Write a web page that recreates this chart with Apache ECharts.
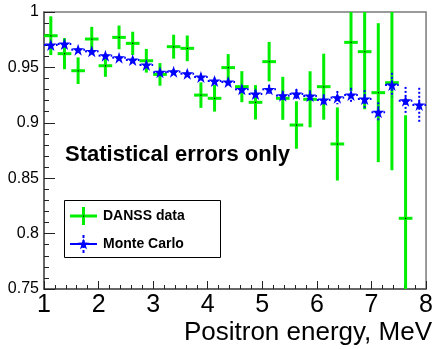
<!DOCTYPE html>
<html>
<head>
<meta charset="utf-8">
<script src="https://cdn.jsdelivr.net/npm/echarts@6/dist/echarts.min.js"></script>
<style>
html,body{margin:0;padding:0;background:#fff;}
#c{width:436px;height:349px;}
</style>
</head>
<body>
<div id="c"></div>
<script>
// ---- data ----
const energies = [1.125,1.375,1.625,1.875,2.125,2.375,2.625,2.875,3.125,3.375,3.625,3.875,4.125,4.375,4.625,4.875,5.125,5.375,5.625,5.875,6.125,6.375,6.625,6.875,7.125,7.375,7.625,7.875];
const binWidth = 0.25;
const dataValues = [0.9786,0.9624,0.947,0.9756,0.9515,0.9771,0.9717,0.956,0.9437,0.9687,0.9672,0.925,0.9221,0.9498,0.9326,0.9185,0.9552,0.9221,0.898,0.9212,0.9326,0.8809,0.9726,0.9642,0.9272,0.9362,0.8138,null];
const dataErrors = [0.0175,0.014,0.012,0.011,0.010,0.0107,0.0105,0.0107,0.0102,0.0108,0.0116,0.0115,0.012,0.0122,0.014,0.0155,0.0178,0.0194,0.0214,0.0253,0.0298,0.033,0.044,0.052,0.0627,0.079,0.093,null];
const mcValues = [0.9702,0.9711,0.966,0.9645,0.9606,0.9588,0.9567,0.9522,0.9456,0.9461,0.9443,0.9413,0.9377,0.9368,0.9302,0.926,0.9302,0.9245,0.926,0.9242,0.9206,0.9227,0.9251,0.9215,0.9095,0.9341,0.9199,0.9161];
const mcErrors = [0.002,0.002,0.002,0.002,0.002,0.002,0.0025,0.0025,0.0025,0.0025,0.003,0.003,0.003,0.003,0.0035,0.0035,0.004,0.004,0.0045,0.005,0.005,0.006,0.0065,0.008,0.009,0.011,0.0125,0.0155];
const xTicks = ['1','2','3','4','5','6','7','8'];
const yTicks = ['0.75','0.8','0.85','0.9','0.95','1'];
const xTitle = 'Positron energy, MeV';
const noteText = 'Statistical errors only';
const legendNames = ['DANSS data','Monte Carlo'];

const GREEN = '#00ee00';
const BLUE = '#0000ff';
const FONT = '"Liberation Sans", Arial, Helvetica, sans-serif';
const STAR = 'path://M50,0 L61.2,34.5 L97.6,34.5 L68.2,55.9 L79.4,90.5 L50,69.1 L20.6,90.5 L31.8,55.9 L2.4,34.5 L38.8,34.5 Z';

function starPoints(cx, cy, R){
  const pts = [];
  for (let k=0;k<10;k++){
    const r = (k%2===0) ? R : R*0.4;
    const a = -Math.PI/2 + k*Math.PI/5;
    pts.push([cx + r*Math.cos(a), cy + r*Math.sin(a)]);
  }
  return pts;
}

const dataItems = energies.map((x,i)=>[x, dataValues[i], dataErrors[i]]).filter(d=>d[1]!=null);
const mcItems = energies.map((x,i)=>[x, mcValues[i], mcErrors[i]]);

function clampY(v, cs){ return Math.max(cs.y, Math.min(cs.y+cs.height, v)); }

function errRender(color, dash, lw, dot){
  return function(params, api){
    const x = api.value(0), y = api.value(1), e = api.value(2);
    const cs = params.coordSys;
    const c = api.coord([x,y]);
    const top = clampY(api.coord([x,y+e])[1], cs);
    const bot = clampY(api.coord([x,y-e])[1], cs);
    const l = api.coord([x-binWidth/2,y])[0];
    const r = api.coord([x+binWidth/2,y])[0];
    const st = {stroke:color, lineWidth:lw};
    if (dash) st.lineDash = dash;
    const ch = [
      {type:'line', shape:{x1:c[0],y1:top,x2:c[0],y2:bot}, style:st},
    ];
    if (c[1] >= cs.y && c[1] <= cs.y+cs.height) {
      ch.push({type:'line', shape:{x1:l,y1:c[1],x2:r,y2:c[1]}, style:st});
      if (dot) ch.push({type:'rect', shape:{x:c[0]-0.5,y:c[1]-0.5,width:1.2,height:1.2}, style:{fill:'#000'}});
    }
    return {type:'group', children:ch};
  };
}

const chart = echarts.init(document.getElementById('c'), null, {renderer:'canvas'});
const option = {
  animation:false,
  backgroundColor:'#fff',
  grid:{left:44, right:9, top:12, bottom:60, show:true, borderColor:'#7a7a7a', borderWidth:1.5, backgroundColor:'transparent'},
  xAxis:{
    type:'value', min:1, max:8, interval:1,
    axisLine:{show:true, onZero:false, lineStyle:{color:'#555', width:1.5}},
    axisTick:{show:true, inside:true, length:8, lineStyle:{color:'#222', width:1}},
    minorTick:{show:true, splitNumber:5, length:4, lineStyle:{color:'#222', width:1}},
    splitLine:{show:false},
    axisLabel:{margin:4, fontSize:25, color:'#000', fontFamily:FONT, showMinLabel:true, showMaxLabel:true,
      formatter:(v)=>xTicks[Math.round(v)-1] ?? ''}
  },
  yAxis:{
    type:'value', min:0.75, max:1, interval:0.05,
    axisLine:{show:true, onZero:false, lineStyle:{color:'#555', width:1.5}},
    axisTick:{show:true, inside:true, length:11, lineStyle:{color:'#222', width:1}},
    minorTick:{show:true, splitNumber:5, length:5, lineStyle:{color:'#222', width:1}},
    splitLine:{show:false},
    axisLabel:{margin:5, fontSize:16, color:'#000', fontFamily:FONT,
      formatter:(v)=>yTicks[Math.round((v-0.75)/0.05)] ?? ''}
  },
  series:[
    {type:'custom', name:legendNames[0], data:dataItems, clip:true, z:2,
      renderItem:errRender(GREEN, null, 3, true)},
    {type:'custom', name:legendNames[1], data:mcItems, clip:true, z:3,
      renderItem:errRender(BLUE, [2,2], 2, false)},
    {type:'scatter', name:legendNames[1]+' markers', data:mcItems.map(d=>[d[0],d[1]]), z:4,
      symbol:STAR, symbolSize:12, itemStyle:{color:BLUE, opacity:1}}
  ],
  graphic:[
    {type:'text', x:65, y:155, z:10, style:{text:noteText, fill:'#000', font:'bold 22px '+FONT, textVerticalAlign:'middle', textAlign:'left'}},
    {type:'text', x:432, y:333, z:10, style:{text:xTitle, fill:'#000', font:'26px '+FONT, textVerticalAlign:'middle', textAlign:'right'}},
    {type:'rect', z:10, shape:{x:64.5, y:200.5, width:156, height:57}, style:{fill:'#fff', stroke:'#000', lineWidth:1}},
    {type:'line', z:11, shape:{x1:70,y1:216,x2:97,y2:216}, style:{stroke:GREEN, lineWidth:3}},
    {type:'line', z:11, shape:{x1:83.5,y1:207,x2:83.5,y2:225}, style:{stroke:GREEN, lineWidth:3}},
    {type:'rect', z:12, shape:{x:83,y:215.5,width:1.2,height:1.2}, style:{fill:'#000'}},
    {type:'text', z:11, x:103, y:216, style:{text:legendNames[0], fill:'#000', font:'bold 14px '+FONT, textVerticalAlign:'middle'}},
    {type:'line', z:11, shape:{x1:70,y1:244,x2:97,y2:244}, style:{stroke:BLUE, lineWidth:2}},
    {type:'line', z:11, shape:{x1:83.5,y1:235,x2:83.5,y2:253}, style:{stroke:BLUE, lineWidth:2, lineDash:[3,2]}},
    {type:'polygon', z:12, shape:{points:starPoints(83.5, 244.5, 6)}, style:{fill:BLUE}},
    {type:'text', z:11, x:103, y:244, style:{text:legendNames[1], fill:'#000', font:'bold 14px '+FONT, textVerticalAlign:'middle'}}
  ]
};
chart.setOption(option);
</script>
</body>
</html>
